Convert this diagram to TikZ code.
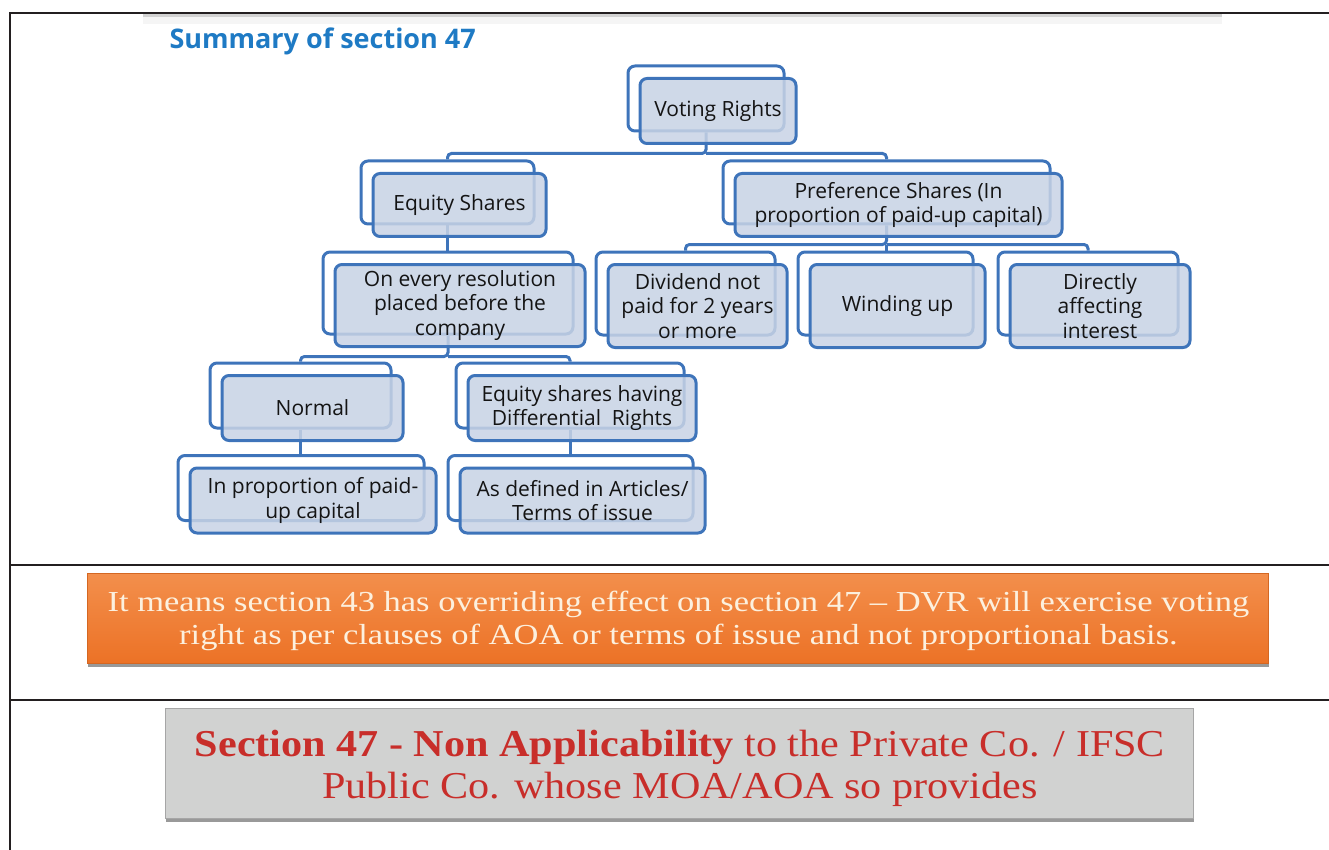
\documentclass[tikz,border=0pt]{standalone}
\usepackage{fontspec}
\setsansfont{Open Sans}
\setmainfont{Liberation Serif}
\newfontfamily\remarkfont[FakeStretch=1.19]{Liberation Serif}
\newfontfamily\notefont[FakeStretch=1.11]{Liberation Serif}
\usetikzlibrary{backgrounds,shadows}

\definecolor{boxblue}{RGB}{62,116,186}
\definecolor{frontfill}{RGB}{200,211,229}
\definecolor{titleblue}{RGB}{30,122,196}
\definecolor{framegray}{RGB}{35,31,32}
\definecolor{orangetop}{RGB}{243,143,76}
\definecolor{orangebot}{RGB}{236,114,38}
\definecolor{creamtext}{RGB}{252,240,222}
\definecolor{panelgray}{RGB}{209,210,209}
\definecolor{redtext}{RGB}{200,46,42}

\tikzset{
  backbox/.style={draw=boxblue, fill=white, line width=3pt, rounded corners=7pt, inner sep=0pt},
  frontbox/.style={draw=boxblue, fill=frontfill, fill opacity=0.86, text opacity=1,
    line width=3pt, rounded corners=7pt, inner sep=0pt, align=center, text=black!92,
    font=\sffamily\fontsize{21}{24.5}\selectfont},
  conn/.style={draw=boxblue, line width=3pt, rounded corners=4pt},
  frameline/.style={draw=framegray, line width=2.6pt},
  notebox/.style={inner sep=0pt,
    drop shadow={shadow xshift=1pt, shadow yshift=-4pt, fill=black, opacity=0.4}},
}

% A layered box: an outline card behind, a filled card in front
\newcommand{\layerbox}[6]{%
  \node[backbox, minimum width=#4pt, minimum height=#5pt] (#1b) at (#2-12,#3-11) {};
  \node[frontbox, minimum width=#4pt, minimum height=#5pt] (#1) at (#2,#3+1.5) {#6};
}

\begin{document}
\begin{tikzpicture}[x=1pt,y=-1pt]
\useasboundingbox (0,0) rectangle (1329,850);

% page frame and separators
\fill[gray!35] (143,14.5) rectangle (1222,17.5);
\fill[gray!8] (143,17.5) rectangle (1222,24);
\draw[frameline] (10,850) -- (10,13) -- (1329,13);
\draw[frameline] (10,565) -- (1329,565);
\draw[frameline] (10,700) -- (1329,700);

% title
\node[font=\sffamily\bfseries\fontsize{27}{30}\selectfont, text=titleblue, anchor=west] (title) at (166,41) {Summary of section 47};

% hierarchy
\layerbox{vr}{718}{109.5}{156}{65}{Voting Rights}
\layerbox{eq}{459.5}{203.5}{173}{63}{Equity Shares}
\layerbox{pref}{898.5}{203.5}{327}{63}{Preference Shares (In\\proportion of paid-up capital)}
\layerbox{res}{460}{304}{250}{82}{On every resolution\\placed before the\\company}
\layerbox{div}{697.5}{304.5}{179}{83}{Dividend not\\paid for 2 years\\or more}
\layerbox{wind}{897.5}{304.5}{175}{83}{Winding up}
\layerbox{dir}{1100}{304.5}{180}{83}{Directly\\affecting\\interest}
\layerbox{norm}{312.5}{406.5}{181}{65}{Normal}
\layerbox{edr}{582}{406.5}{228}{65}{Equity shares having\\Differential~ Rights}
\layerbox{prop}{313}{499}{246}{65}{In proportion of paid-\\up capital}
\layerbox{art}{582.5}{499}{245}{65}{As defined in Articles/\\Terms of issue}

% connectors, behind the cards
\begin{scope}[on background layer]
  \path (vrb.south) ++(0,21) coordinate (vrbus);
  \draw[conn] (vrb.south) -- (vrbus) -| (eqb.north);
  \draw[conn] (vrbus) -| (prefb.north);
  \draw[conn] (eqb.south) -- (eqb.south |- resb.north);
  \path (prefb.south) ++(0,19) coordinate (prefbus);
  \draw[conn] (prefb.south) -- (prefbus) -| (divb.north);
  \draw[conn] (prefbus) -| (dirb.north);
  \draw[conn] (prefbus) -- (prefbus |- windb.north);
  \path (resb.south) ++(0,21) coordinate (resbus);
  \draw[conn] (resb.south) -- (resbus) -| (normb.north);
  \draw[conn] (resbus) -| (edrb.north);
  \draw[conn] (normb.south) -- (normb.south |- propb.north);
  \draw[conn] (edrb.south) -- (edrb.south |- artb.north);
\end{scope}

% orange remark
\node[notebox, minimum width=1181pt, minimum height=90pt,
  top color=orangetop, bottom color=orangebot, draw=orangebot!90!black, line width=0.4pt]
  (remark) at (677.5,618) {};
\node[align=center, inner sep=0pt, text=creamtext, font=\remarkfont\fontsize{29}{33}\selectfont]
  (remarktext) at (678.5,621)
  {It means section 43 has overriding effect on section 47 – DVR will exercise voting\\
   right as per clauses of AOA or terms of issue and not proportional basis.};

% grey note
\node[notebox, minimum width=1028pt, minimum height=110pt,
  fill=panelgray, draw=gray!70, line width=0.4pt] (note) at (679,763) {};
\node[align=center, inner sep=0pt, text=redtext, font=\notefont\fontsize{38}{42}\selectfont]
  (notetext) at (680,768)
  {\textbf{Section 47 - Non Applicability} to the Private Co. / IFSC\\
   Public Co. whose MOA/AOA so provides};
\end{tikzpicture}
\end{document}
